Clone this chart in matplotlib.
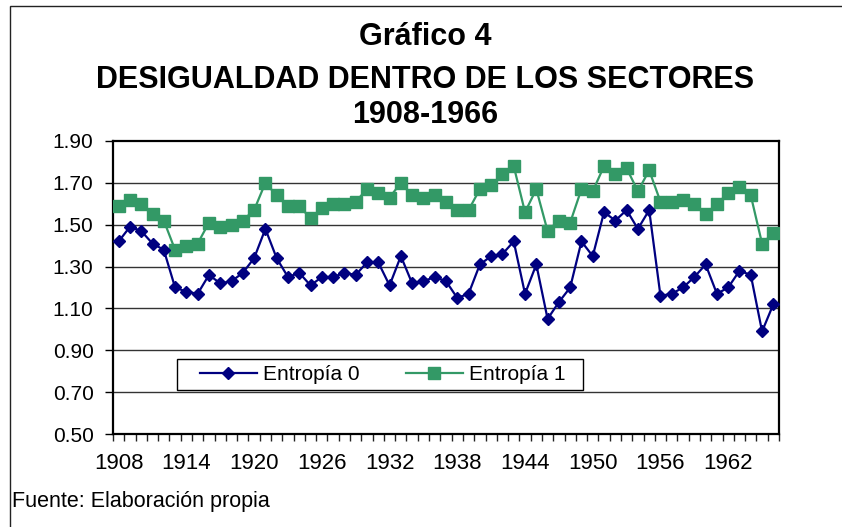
import matplotlib
matplotlib.use("Agg")
import matplotlib.pyplot as plt
from matplotlib.patches import Rectangle

years = list(range(1908, 1967))
entropia0 = [1.42, 1.49, 1.47, 1.41, 1.38, 1.20, 1.18, 1.17, 1.26, 1.22,
             1.23, 1.27, 1.34, 1.48, 1.34, 1.25, 1.27, 1.21, 1.25, 1.25,
             1.27, 1.26, 1.32, 1.32, 1.21, 1.35, 1.22, 1.23, 1.25, 1.23,
             1.15, 1.17, 1.31, 1.35, 1.36, 1.42, 1.17, 1.31, 1.05, 1.13,
             1.20, 1.42, 1.35, 1.56, 1.52, 1.57, 1.48, 1.57, 1.16, 1.17,
             1.20, 1.25, 1.31, 1.17, 1.20, 1.28, 1.26, 0.99, 1.12]
entropia1 = [1.59, 1.62, 1.60, 1.55, 1.52, 1.38, 1.40, 1.41, 1.51, 1.49,
             1.50, 1.52, 1.57, 1.70, 1.64, 1.59, 1.59, 1.53, 1.58, 1.60,
             1.60, 1.61, 1.67, 1.65, 1.63, 1.70, 1.64, 1.63, 1.64, 1.61,
             1.57, 1.57, 1.67, 1.69, 1.74, 1.78, 1.56, 1.67, 1.47, 1.52,
             1.51, 1.67, 1.66, 1.78, 1.74, 1.77, 1.66, 1.76, 1.61, 1.61,
             1.62, 1.60, 1.55, 1.60, 1.65, 1.68, 1.64, 1.41, 1.46]
xtick_years = [1908, 1914, 1920, 1926, 1932, 1938, 1944, 1950, 1956, 1962]
yticks = [0.50, 0.70, 0.90, 1.10, 1.30, 1.50, 1.70, 1.90]

plt.rcParams['font.family'] = ['Liberation Sans', 'DejaVu Sans']

W, H = 842, 527
fig = plt.figure(figsize=(W / 100, H / 100), dpi=100)
fig.patch.set_facecolor('white')

# outer chart border (top and left visible)
fig.add_artist(Rectangle((10 / W, -0.1), 1.2, (H - 6) / H + 0.1,
                         transform=fig.transFigure, fill=False,
                         edgecolor='#222222', linewidth=1.0))

left, right, top, bottom = 113, 779, 141, 434
ax = fig.add_axes([left / W, 1 - bottom / H, (right - left) / W, (bottom - top) / H])

blue = '#000080'
green = '#339966'
ax.plot(years, entropia0, color=blue, linewidth=1.6, marker='D', markersize=6.6,
        markerfacecolor=blue, markeredgecolor=blue, label='Entropía 0', zorder=4)
ax.plot(years, entropia1, color=green, linewidth=1.6, marker='s', markersize=8.2,
        markerfacecolor=green, markeredgecolor=green, label='Entropía 1', zorder=3)

ax.set_xlim(years[0] - 0.5, years[-1] + 0.5)
ax.set_ylim(0.50, 1.90)
ax.set_yticks(yticks)
ax.set_yticklabels([f"{v:.2f}" for v in yticks], fontsize=15)
ax.set_xticks(xtick_years)
ax.set_xticklabels([str(y) for y in xtick_years], fontsize=16)
ax.set_xticks([y - 0.5 for y in years] + [years[-1] + 0.5], minor=True)
ax.tick_params(axis='x', which='major', length=0, pad=14)
ax.tick_params(axis='x', which='minor', length=5, width=1, direction='out', color='#222222')
ax.tick_params(axis='y', which='major', length=6, width=1, direction='out', pad=8)

for v in yticks[1:-1]:
    ax.axhline(v, color='#333333', linewidth=1.0, zorder=1)

for s in ax.spines.values():
    s.set_linewidth(1.6)
    s.set_color('black')

# legend box (drawn separately for exact padding)
lx0, lx1, ly0, ly1 = 177, 583, 359, 390
ax.add_patch(Rectangle(((lx0 - left) / (right - left), (bottom - ly1) / (bottom - top)),
                       (lx1 - lx0) / (right - left), (ly1 - ly0) / (bottom - top),
                       transform=ax.transAxes, facecolor='white', edgecolor='black',
                       linewidth=1.0, zorder=5))
leg = ax.legend(loc='center', bbox_to_anchor=(0.405, 0.203), ncol=2, fontsize=15,
                frameon=False, handlelength=2.75, handletextpad=0.3, columnspacing=2.2,
                borderpad=0.25, borderaxespad=0)
leg.set_zorder(6)

cx = 425 / W
fig.text(cx, 1 - 45 / H, 'Gráfico 4', ha='center', va='baseline', fontsize=22, fontweight='bold')
fig.text(cx, 1 - 88 / H, 'DESIGUALDAD DENTRO DE LOS SECTORES', ha='center', va='baseline',
         fontsize=22, fontweight='bold')
fig.text(cx, 1 - 123 / H, '1908-1966', ha='center', va='baseline', fontsize=22, fontweight='bold')

fig.text(12 / W, 1 - 507 / H, 'Fuente: Elaboración propia', ha='left', va='baseline', fontsize=15.5)

fig.savefig('out.png', dpi=100)
